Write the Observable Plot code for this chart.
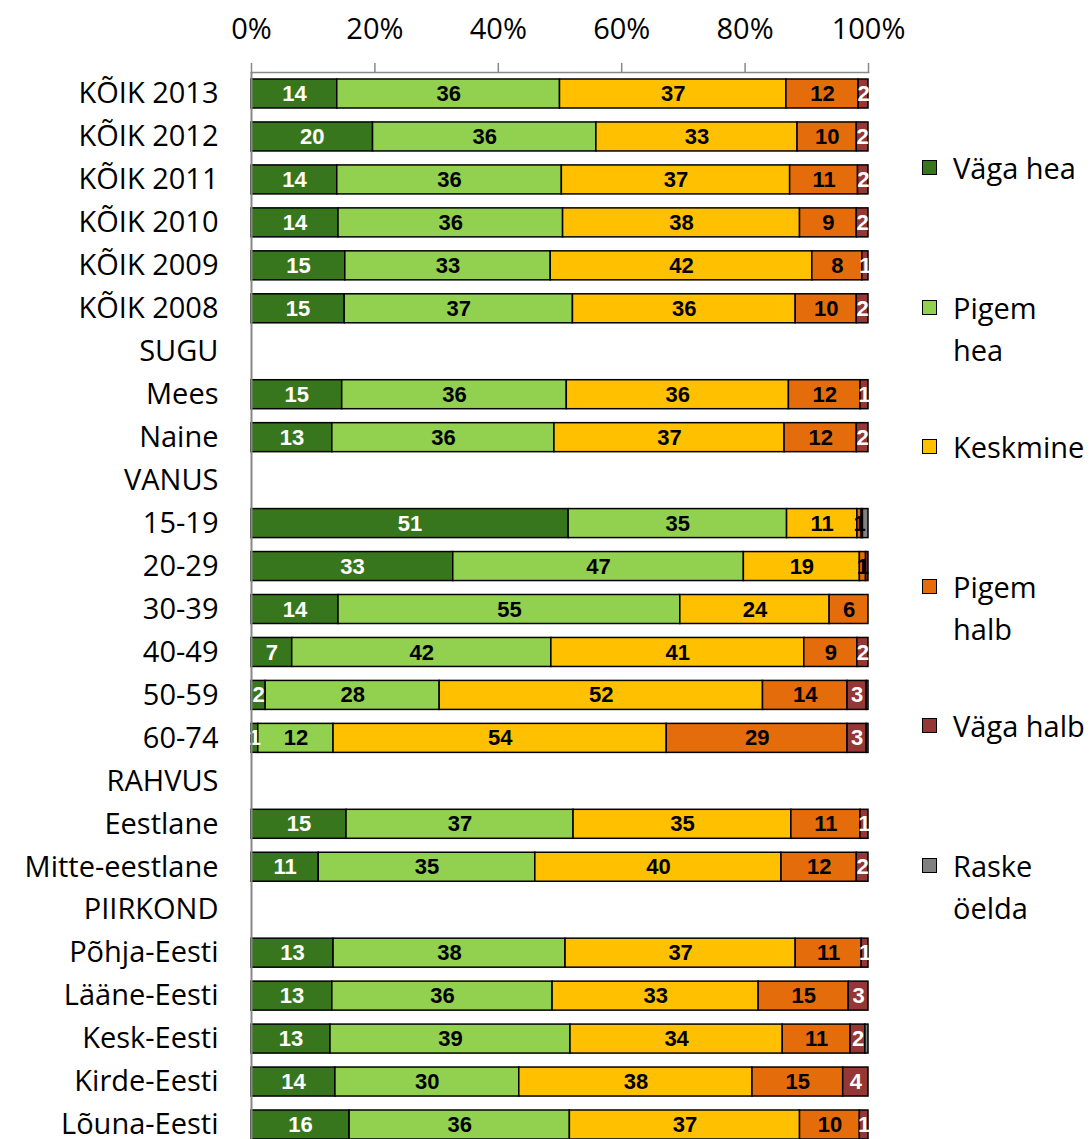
<!DOCTYPE html>
<html>
<head>
<meta charset="utf-8">
<script src="https://cdn.jsdelivr.net/npm/d3@7"></script>
<script src="https://cdn.jsdelivr.net/npm/@observablehq/plot@0.6"></script>
<style>
  html, body { margin: 0; padding: 0; background: #fff; }
  #wrap { position: relative; width: 1090px; height: 1139px; overflow: hidden; font-family: "Open Sans", sans-serif; }
  .leg { position: absolute; left: 922px; font-size: 29px; line-height: 42px; color: #000; }
  .leg .sw { position: absolute; left: 0; top: 13px; width: 13px; height: 13px; border: 1.5px solid #000; }
  .leg .tx { margin-left: 31px; white-space: nowrap; }
</style>
</head>
<body>
<div id="wrap"></div>
<script>
const categories = ["KÕIK 2013","KÕIK 2012","KÕIK 2011","KÕIK 2010","KÕIK 2009","KÕIK 2008",
  "SUGU","Mees","Naine","VANUS","15-19","20-29","30-39","40-49","50-59","60-74",
  "RAHVUS","Eestlane","Mitte-eestlane","PIIRKOND",
  "Põhja-Eesti","Lääne-Eesti","Kesk-Eesti","Kirde-Eesti","Lõuna-Eesti"];

const seriesNames = ["Väga hea","Pigem hea","Keskmine","Pigem halb","Väga halb","Raske öelda"];
const seriesColors = ["#38761d","#92d050","#ffc000","#e46c0a","#953735","#808080"];
const legendLines = [["Väga hea"],["Pigem","hea"],["Keskmine"],["Pigem","halb"],["Väga halb"],["Raske","öelda"]];

const vagaHea   = [13.9,19.7,13.9,14.1,15.2,15.1, null,14.7,13.1, null,51.4,32.7,14.1, 6.6, 2.3, 1.1, null,15.4,10.9, null,13.3,13.1,12.8,13.6,15.9];
const pigemHea  = [36.1,36.2,36.4,36.4,33.3,37.0, null,36.4,36.0, null,35.4,47.1,55.4,42.0,28.2,12.2, null,36.8,35.1, null,37.6,35.7,38.9,29.8,35.7];
const keskmine  = [36.7,32.6,37.0,38.4,42.4,36.1, null,36.0,37.3, null,11.4,18.8,24.2,41.0,52.4,54.0, null,35.3,39.9, null,37.3,33.4,34.4,37.8,37.3];
const pigemHalb = [11.7, 9.6,11.0, 9.2, 8.1, 9.9, null,11.6,11.7, null, 0.7, 1.0, 6.3, 8.6,13.7,29.3, null,11.2,12.2, null,10.7,14.6,11.0,14.7, 9.7];
const vagaHalb  = [ 1.6, 1.9, 1.7, 1.9, 1.0, 1.9, null, 1.3, 1.9, null, 0.2, 0.4, 0.0, 1.8, 3.1, 3.1, null, 1.3, 1.9, null, 1.1, 3.2, 2.4, 4.1, 1.4];
const raske     = [ 0.0, 0.0, 0.0, 0.0, 0.0, 0.0, null, 0.0, 0.0, null, 0.9, 0.0, 0.0, 0.0, 0.3, 0.3, null, 0.0, 0.0, null, 0.0, 0.0, 0.5, 0.0, 0.0];

const xTicks = [0, 20, 40, 60, 80, 100];

const seriesValues = [vagaHea, pigemHea, keskmine, pigemHalb, vagaHalb, raske];
const rows = [];
categories.forEach((c, i) => {
  seriesValues.forEach((vals, s) => {
    if (vals[i] != null && vals[i] > 0) rows.push({category: c, series: seriesNames[s], value: vals[i], labelled: s < 5});
  });
});
const whiteText = new Set(["Väga hea", "Väga halb"]);

const chart = Plot.plot({
  width: 1090,
  height: 1139,
  marginLeft: 251,
  marginRight: 222,
  marginTop: 72,
  marginBottom: 0,
  style: {fontFamily: "Open Sans, sans-serif", background: "#fff"},
  x: {domain: [0, 100], axis: null, label: null},
  y: {domain: categories, range: [72, 1146], paddingInner: 0.325, paddingOuter: 0.163, round: false, axis: null, label: null},
  color: {domain: seriesNames, range: seriesColors},
  marks: [
    Plot.barX(rows, Plot.stackX({
      x: "value", y: "category", fill: "series", order: seriesNames,
      stroke: "#000", strokeWidth: 1.5
    })),
    Plot.text(rows.filter(d => d.labelled && d.value >= 0.5), Plot.stackX({
      x: "value", y: "category", z: "series", order: seriesNames,
      text: d => String(Math.round(d.value)),
      fill: d => whiteText.has(d.series) ? "#fff" : "#000",
      fontWeight: "bold", fontSize: 22, fontFamily: "Liberation Sans, Arial, sans-serif"
    })),
    Plot.ruleX([0], {stroke: "#888", strokeWidth: 2}),
    Plot.frame({anchor: "top", stroke: "#888", strokeWidth: 1.5}),
    Plot.axisX(xTicks, {
      anchor: "top", tickSize: 10, tickPadding: 24, stroke: "#888", strokeWidth: 1.5,
      tickFormat: d => d + "%", fontSize: 29, fill: "#000", color: "#000", label: null
    }),
    Plot.axisY({
      anchor: "left", tickSize: 0, tickPadding: 33, fontSize: 29, fill: "#000", label: null
    })
  ]
});

const wrap = document.getElementById("wrap");
wrap.appendChild(chart);

legendLines.forEach((lines, i) => {
  const item = document.createElement("div");
  item.className = "leg";
  item.style.top = (168 - 21 + i * 139.6) + "px";
  const sw = document.createElement("div");
  sw.className = "sw";
  sw.style.background = seriesColors[i];
  item.appendChild(sw);
  const tx = document.createElement("div");
  tx.className = "tx";
  tx.innerHTML = lines.join("<br>");
  item.appendChild(tx);
  wrap.appendChild(item);
});
</script>
</body>
</html>
